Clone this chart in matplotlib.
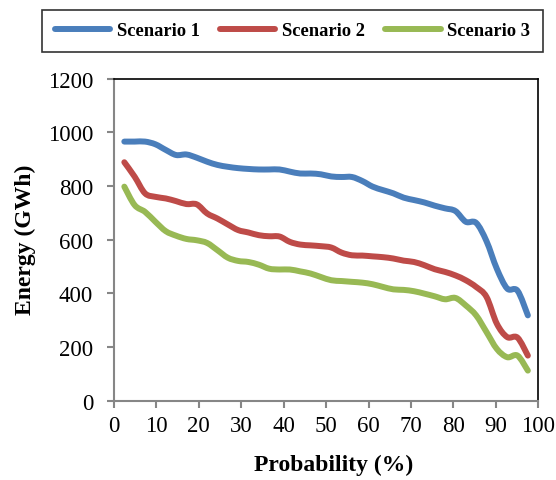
import matplotlib
matplotlib.use('Agg')
import matplotlib.pyplot as plt
from matplotlib.path import Path
from matplotlib.patches import PathPatch
from matplotlib.lines import Line2D

# probability positions (i/41, 40 ranked values)
probability = [100.0 * i / 41 for i in range(1, 41)]

scenario1 = [966, 966, 966, 956, 935, 916, 918, 906, 891, 879,
             872, 867, 864, 862, 862, 862, 854, 847, 847, 844,
             836, 834, 834, 819, 798, 785, 773, 757, 748, 739,
             727, 717, 707, 667, 663, 595, 492, 418, 410, 318]
scenario2 = [889, 835, 773, 760, 754, 744, 733, 732, 698, 679,
             657, 636, 627, 617, 613, 612, 592, 582, 579, 576,
             571, 552, 542, 541, 538, 535, 530, 522, 517, 505,
             490, 480, 467, 449, 424, 387, 287, 237, 235, 168]
scenario3 = [798, 729, 704, 667, 632, 615, 603, 598, 588, 561,
             533, 521, 517, 507, 492, 489, 489, 482, 474, 461,
             449, 446, 443, 440, 434, 424, 415, 413, 408, 399,
             389, 378, 383, 355, 318, 256, 193, 162, 168, 112]

names = ['Scenario 1', 'Scenario 2', 'Scenario 3']
colors = ['#4A7EBB', '#BE4B48', '#98B954']

x_ticks = list(range(0, 101, 10))
y_ticks = list(range(0, 1201, 200))

serif = ['Liberation Serif', 'DejaVu Serif']


def smooth_path(xs, ys):
    # excel style smoothed line: cubic bezier through the points
    pts = list(zip(xs, ys))
    n = len(pts)
    verts = [pts[0]]
    codes = [Path.MOVETO]
    for i in range(n - 1):
        p0 = pts[i - 1] if i > 0 else pts[i]
        p1 = pts[i]
        p2 = pts[i + 1]
        p3 = pts[i + 2] if i + 2 < n else pts[i + 1]
        c1 = (p1[0] + (p2[0] - p0[0]) / 6.0, p1[1] + (p2[1] - p0[1]) / 6.0)
        c2 = (p2[0] - (p3[0] - p1[0]) / 6.0, p2[1] - (p3[1] - p1[1]) / 6.0)
        verts += [c1, c2, p2]
        codes += [Path.CURVE4] * 3
    return Path(verts, codes)


fig = plt.figure(figsize=(5.56, 4.81), dpi=100)
ax = fig.add_axes([0.205, 0.165, 0.763, 0.669])

for ys, c in zip([scenario1, scenario2, scenario3], colors):
    patch = PathPatch(smooth_path(probability, ys), facecolor='none', edgecolor=c,
                      linewidth=4.3, capstyle='round', joinstyle='round')
    ax.add_patch(patch)

ax.set_xlim(0, 100)
ax.set_ylim(0, 1200)
ax.set_xticks(x_ticks)
ax.set_yticks(y_ticks)
ax.set_xticklabels([str(v) for v in x_ticks], family=serif, fontsize=16.5)
ax.set_yticklabels([str(v) for v in y_ticks], family=serif, fontsize=16.5)
ax.tick_params(direction='out', length=5, width=1.5, color='#868686')
ax.tick_params(axis='y', pad=10)
ax.tick_params(axis='x', pad=5)

for s in ['left', 'bottom']:
    ax.spines[s].set_color('#868686')
    ax.spines[s].set_linewidth(1.5)
for s in ['top', 'right']:
    ax.spines[s].set_color('black')
    ax.spines[s].set_linewidth(1.2)

fig.text(334 / 556, 1 - 465 / 481, 'Probability (%)', family=serif, fontsize=17,
         fontweight='bold', ha='center', va='center')
fig.text(25 / 556, 1 - 240 / 481, 'Energy (GWh)', family=serif, fontsize=17,
         fontweight='bold', ha='center', va='center', rotation=90)

handles = [Line2D([0], [0], color=c, linewidth=4.3, solid_capstyle='round') for c in colors]
leg = fig.legend(handles, names, loc='center', bbox_to_anchor=(0.526, 0.9335), ncol=3,
                 frameon=True, fancybox=False, handlelength=3.0, handletextpad=0.35,
                 columnspacing=1.1, borderpad=0.7,
                 prop={'family': serif, 'size': 13.3, 'weight': 'bold'})
leg.get_frame().set_edgecolor('black')
leg.get_frame().set_linewidth(1.2)

fig.savefig('out.png', dpi=100)
